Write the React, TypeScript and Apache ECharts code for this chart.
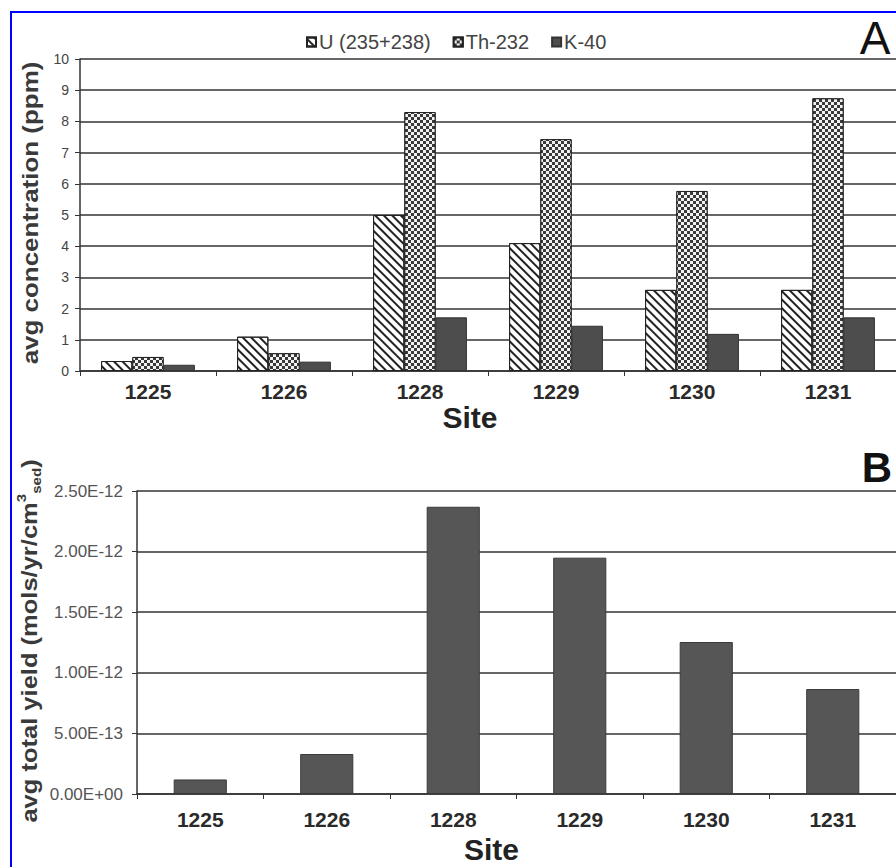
import React, { useEffect, useRef } from "react";
import * as echarts from "echarts";

const categories = ["1225", "1226", "1228", "1229", "1230", "1231"];
const seriesNames = ["U (235+238)", "Th-232", "K-40"];
const uValues = [0.32, 1.1, 5.0, 4.1, 2.6, 2.6];
const thValues = [0.45, 0.57, 8.3, 7.43, 5.77, 8.74];
const kValues = [0.2, 0.3, 1.72, 1.45, 1.19, 1.72];
const yieldValues = [0.12e-12, 0.33e-12, 2.37e-12, 1.95e-12, 1.254e-12, 0.866e-12];

const FONT = "'Liberation Sans', Arial, Helvetica, sans-serif";

function sci(v: number): string {
  if (v === 0) return "0.00E+00";
  const exp = Math.floor(Math.log10(Math.abs(v)) + 1e-9);
  const mant = v / Math.pow(10, exp);
  const sign = exp < 0 ? "-" : "+";
  const e = Math.abs(exp);
  return mant.toFixed(2) + "E" + sign + (e < 10 ? "0" + e : String(e));
}

export default function App() {
  const ref = useRef<HTMLDivElement>(null);
  useEffect(() => {
    document.body.style.margin = "0";
    const chart = echarts.init(ref.current as HTMLDivElement, null, { renderer: "svg" });
    const axisLine = { show: true, lineStyle: { color: "#333", width: 1.5 } };
    const axisTick = { show: true, length: 5, lineStyle: { color: "#333", width: 1 } };
    const splitLine = { show: true, lineStyle: { color: "#666", width: 2 } };
    const option: any = {
      animation: false,
      backgroundColor: "#fff",
      textStyle: { fontFamily: FONT },
      legend: {
        data: seriesNames,
        left: 306,
        top: 32,
        padding: 0,
        itemWidth: 9,
        itemHeight: 9,
        itemGap: 22,
        icon: "rect",
        textStyle: { fontSize: 20, color: "#444", fontFamily: FONT, padding: [0, 0, 0, -2] },
      },
      grid: [
        { left: 80, top: 59, width: 827, height: 312 },
        { left: 137, top: 491, width: 768, height: 303 },
      ],
      xAxis: [
        {
          type: "category",
          gridIndex: 0,
          data: categories,
          axisLine,
          axisTick,
          axisLabel: { fontSize: 21, fontWeight: "bold", color: "#2a2a2a", margin: 10 },
          name: "Site",
          nameLocation: "middle",
          nameGap: 27,
          nameTextStyle: { fontSize: 30, fontWeight: "bold", color: "#222", padding: [0, 36, 0, 0] },
        },
        {
          type: "category",
          gridIndex: 1,
          data: categories,
          axisLine,
          axisTick,
          axisLabel: { fontSize: 21, fontWeight: "bold", color: "#2a2a2a", margin: 15 },
          name: "Site",
          nameLocation: "middle",
          nameGap: 40,
          nameTextStyle: { fontSize: 30, fontWeight: "bold", color: "#222", padding: [0, 50, 0, 0] },
        },
      ],
      yAxis: [
        {
          type: "value",
          gridIndex: 0,
          min: 0,
          max: 10,
          interval: 1,
          axisLine,
          axisTick,
          splitLine,
          axisLabel: { fontSize: 14, color: "#444", margin: 11 },
        },
        {
          type: "value",
          gridIndex: 1,
          min: 0,
          max: 2.5e-12,
          interval: 0.5e-12,
          axisLine,
          axisTick,
          splitLine,
          axisLabel: { fontSize: 17, color: "#555", margin: 14, formatter: (v: number) => sci(v) },
        },
      ],
      series: [
        {
          name: seriesNames[0],
          type: "bar",
          xAxisIndex: 0,
          yAxisIndex: 0,
          data: uValues,
          barGap: "0%",
          barCategoryGap: "31%",
          itemStyle: {
            color: "#fff",
            borderColor: "#222",
            borderWidth: 1,
            decal: {
              symbol: "rect",
              symbolSize: 1,
              color: "#222",
              dashArrayX: [1, 0],
              dashArrayY: [1.5, 3.5],
              rotation: Math.PI / 4,
            },
          },
        },
        {
          name: seriesNames[1],
          type: "bar",
          xAxisIndex: 0,
          yAxisIndex: 0,
          data: thValues,
          barGap: "0%",
          barCategoryGap: "31%",
          itemStyle: {
            color: "#3a3a3a",
            borderColor: "#222",
            borderWidth: 1,
            decal: {
              symbol: "rect",
              symbolSize: 1,
              color: "#f2f2f2",
              dashArrayX: [[3, 3], [0, 3, 3, 0]],
              dashArrayY: [3, 0],
              rotation: 0,
            },
          },
        },
        {
          name: seriesNames[2],
          type: "bar",
          xAxisIndex: 0,
          yAxisIndex: 0,
          data: kValues,
          barGap: "0%",
          barCategoryGap: "31%",
          itemStyle: { color: "#4d4d4d", borderColor: "#333", borderWidth: 1 },
        },
        {
          name: "avg total yield",
          type: "bar",
          xAxisIndex: 1,
          yAxisIndex: 1,
          data: yieldValues,
          barCategoryGap: "58%",
          itemStyle: { color: "#565656", borderColor: "#3a3a3a", borderWidth: 1 },
        },
      ],
      graphic: [
        {
          type: "rect",
          silent: true,
          shape: { x: 11, y: 12, width: 1000, height: 1000 },
          style: { fill: "none", stroke: "#0000ff", lineWidth: 2 },
        },
        {
          type: "text",
          x: 875,
          y: 38,
          style: { text: "A", fontSize: 46, fontWeight: "normal", fill: "#111", align: "center", verticalAlign: "middle", fontFamily: FONT },
        },
        {
          type: "text",
          x: 877,
          y: 467,
          style: { text: "B", fontSize: 42, fontWeight: "bold", fill: "#111", align: "center", verticalAlign: "middle", fontFamily: FONT },
        },
        {
          type: "text",
          x: 30,
          y: 213,
          rotation: Math.PI / 2,
          scaleX: 1.18,
          style: { text: "avg concentration (ppm)", fontSize: 22, fontWeight: "bold", fill: "#3a3a3a", align: "center", verticalAlign: "middle", fontFamily: FONT },
        },
        {
          type: "text",
          x: 29,
          y: 641,
          rotation: Math.PI / 2,
          scaleX: 1.16,
          style: {
            text: "avg total yield (mols/yr/cm{sup|3}{sub|sed})",
            fontSize: 22,
            fontWeight: "bold",
            fill: "#3a3a3a",
            align: "center",
            verticalAlign: "middle",
            fontFamily: FONT,
            lineHeight: 28,
            rich: {
              sup: { fontSize: 13, fontWeight: "bold", fill: "#3a3a3a", verticalAlign: "top", lineHeight: 28, fontFamily: FONT },
              sub: { fontSize: 13, fontWeight: "bold", fill: "#3a3a3a", verticalAlign: "bottom", lineHeight: 28, fontFamily: FONT },
            },
          },
        },
      ],
    };
    chart.setOption(option);
    return () => chart.dispose();
  }, []);
  return <div ref={ref} style={{ width: 896, height: 867 }} />;
}
